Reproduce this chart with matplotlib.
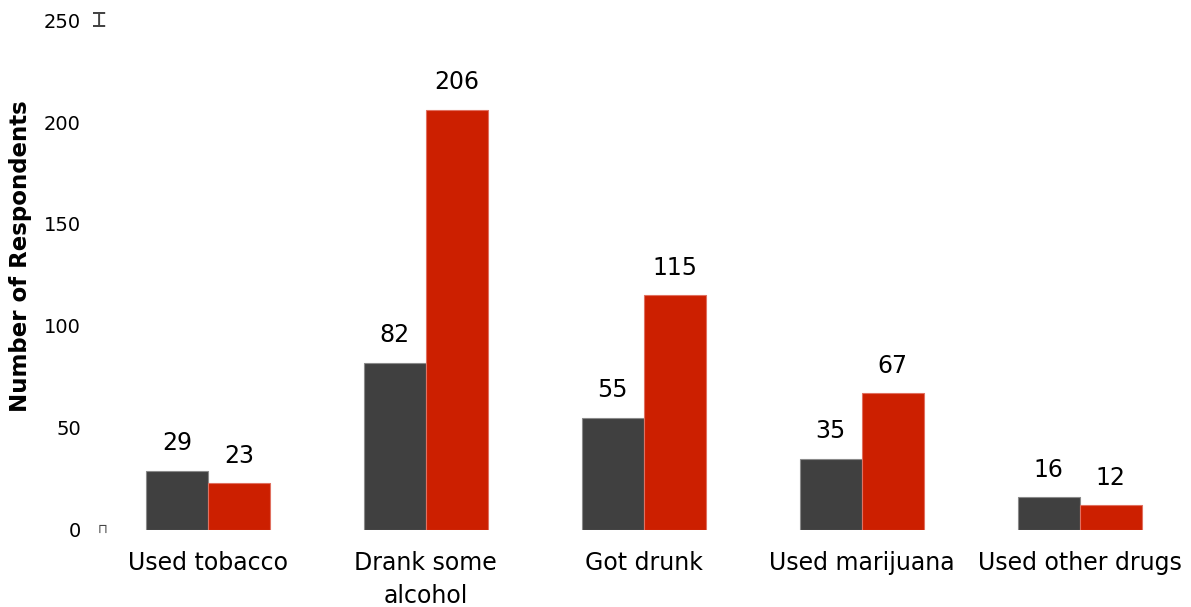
import matplotlib
matplotlib.use("Agg")
import matplotlib.pyplot as plt
import numpy as np

categories = ["Used tobacco", "Drank some\nalcohol", "Got drunk", "Used marijuana", "Used other drugs"]
series_a = [29, 82, 55, 35, 16]
series_b = [23, 206, 115, 67, 12]
yticks = [0, 50, 100, 150, 200, 250]

fig = plt.figure(figsize=(11.91, 6.07), dpi=100)
ax = fig.add_axes([0.083, 0.127, 0.915, 0.840])

x = np.arange(len(categories))
w = 0.285
b1 = ax.bar(x - w / 2, series_a, w, color="#404040", edgecolor="#8a8a8a", linewidth=0.8)
b2 = ax.bar(x + w / 2, series_b, w, color="#cc1f00", edgecolor="#e07060", linewidth=0.8)

for bars, vals in ((b1, series_a), (b2, series_b)):
    for r, v in zip(bars, vals):
        ax.annotate(str(v), (r.get_x() + r.get_width() / 2, v), xytext=(0, 11),
                    textcoords="offset points", ha="center", va="bottom", fontsize=17)

ax.set_xlim(-0.5, len(categories) - 0.5)
ax.set_ylim(0, 250)
ax.set_yticks(yticks)
ax.set_xticks(x)
ax.set_xticklabels(categories, fontsize=17, linespacing=1.5)
ax.tick_params(axis="y", length=0, labelsize=14, pad=13)
ax.tick_params(axis="x", length=0, pad=15)
for s in ax.spines.values():
    s.set_visible(False)
ax.set_ylabel("Number of Respondents", fontsize=16.5, fontweight="bold")
ax.yaxis.set_label_coords(-0.061, 0.537)

# small end caps on the (hidden) axis
ax.text(0.0, 1.0, "\u2336", transform=ax.transAxes, ha="center", va="center",
        fontsize=17, color="#444444", family=["DejaVu Sans", "DejaVu Sans Mono", "Noto Sans CJK SC"])
ax.text(0.003, 0.0, "\u2293", transform=ax.transAxes, ha="center", va="center",
        fontsize=9, color="#444444")

fig.savefig("out.png", dpi=100)
